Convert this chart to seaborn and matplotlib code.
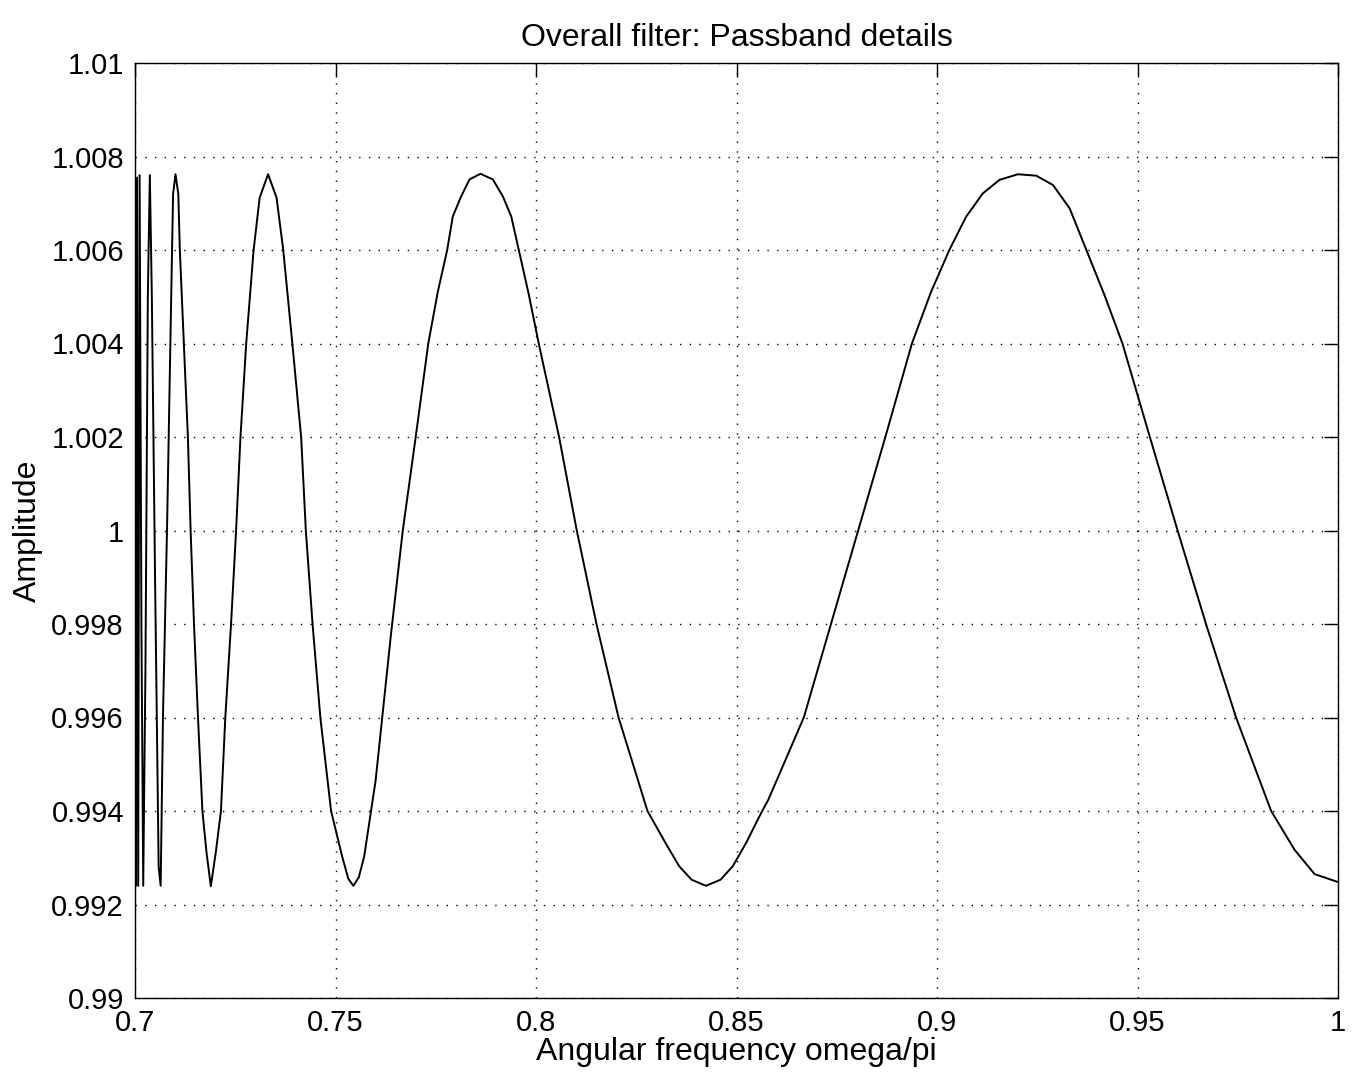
import matplotlib
matplotlib.use("Agg")
import matplotlib.pyplot as plt
import seaborn as sns
import pandas as pd

# Read-off curve points (omega/pi, amplitude)
omega = [
    0.70000, 0.70025, 0.70050, 0.70080, 0.70115, 0.70160, 0.70205, 0.70260, 0.70320, 0.70370,
    0.70420, 0.70500, 0.70590, 0.70640, 0.70697, 0.70798, 0.70882, 0.70924, 0.70950, 0.71010,
    0.71080, 0.71118, 0.71218, 0.71319, 0.71387, 0.71471, 0.71571, 0.71681, 0.71781, 0.71891,
    0.72017, 0.72143, 0.72252, 0.72395, 0.72521, 0.72630, 0.72773, 0.72958, 0.73109, 0.73319,
    0.73530, 0.73697, 0.73924, 0.74143, 0.74260, 0.74428, 0.74622, 0.74890, 0.75168, 0.75320,
    0.75445, 0.75580, 0.75714, 0.76000, 0.76381, 0.76678, 0.77000, 0.77314, 0.77550, 0.77785,
    0.77926, 0.78135, 0.78342, 0.78616, 0.78923, 0.79172, 0.79382, 0.79571, 0.79820, 0.80068,
    0.80576, 0.81017, 0.81508, 0.82059, 0.82780, 0.83240, 0.83570, 0.83880, 0.84237, 0.84601,
    0.84908, 0.85242, 0.85574, 0.85798, 0.86678, 0.87356, 0.88034, 0.88712, 0.89375, 0.89850,
    0.90308, 0.90725, 0.91142, 0.91558, 0.92017, 0.92475, 0.92892, 0.93308, 0.93725, 0.94170,
    0.94625, 0.95308, 0.96000, 0.96708, 0.97458, 0.98333, 0.98917, 0.99417, 1.00000,
]
amplitude = [
    1.00660, 0.99240, 1.00755, 0.99240, 1.00760, 0.99800, 0.99240, 0.99700, 1.00500, 1.00760,
    1.00500, 0.99900, 0.99280, 0.99240, 0.99600, 1.00000, 1.00400, 1.00600, 1.00720, 1.00762,
    1.00720, 1.00600, 1.00400, 1.00200, 1.00000, 0.99800, 0.99600, 0.99400, 0.99313, 0.99239,
    0.99313, 0.99400, 0.99600, 0.99800, 1.00000, 1.00200, 1.00400, 1.00600, 1.00712, 1.00762,
    1.00712, 1.00600, 1.00400, 1.00200, 1.00000, 0.99800, 0.99600, 0.99400, 0.99302, 0.99255,
    0.99240, 0.99258, 0.99302, 0.99465, 0.99776, 1.00000, 1.00200, 1.00400, 1.00510, 1.00600,
    1.00672, 1.00715, 1.00751, 1.00763, 1.00751, 1.00715, 1.00672, 1.00600, 1.00505, 1.00400,
    1.00200, 1.00000, 0.99800, 0.99600, 0.99400, 0.99330, 0.99282, 0.99253, 0.99240, 0.99253,
    0.99282, 0.99332, 0.99389, 0.99425, 0.99600, 0.99800, 1.00000, 1.00200, 1.00400, 1.00510,
    1.00600, 1.00671, 1.00721, 1.00750, 1.00762, 1.00759, 1.00739, 1.00689, 1.00600, 1.00505,
    1.00400, 1.00200, 1.00000, 0.99800, 0.99600, 0.99400, 0.99317, 0.99265, 0.99248,
]

x_ticks = [0.7, 0.75, 0.8, 0.85, 0.9, 0.95, 1.0]
x_tick_labels = ["0.7", "0.75", "0.8", "0.85", "0.9", "0.95", "1"]
y_ticks = [0.99, 0.992, 0.994, 0.996, 0.998, 1.0, 1.002, 1.004, 1.006, 1.008, 1.01]
y_tick_labels = ["0.99", "0.992", "0.994", "0.996", "0.998", "1", "1.002", "1.004", "1.006", "1.008", "1.01"]

sns.set_style("white")
plt.rcParams['font.family'] = ['Liberation Sans', 'DejaVu Sans']
plt.rcParams['text.color'] = 'black'
plt.rcParams['axes.labelcolor'] = 'black'

df = pd.DataFrame({"omega": omega, "amplitude": amplitude})

fig = plt.figure(figsize=(13.56, 10.86), dpi=100)
ax = fig.add_axes([135/1356, 1 - 998/1086, (1338 - 135)/1356, (998 - 63)/1086])

sns.lineplot(data=df, x="omega", y="amplitude", ax=ax, color="black", linewidth=1.4,
             sort=False, estimator=None)

ax.set_xlim(0.7, 1.0)
ax.set_ylim(0.99, 1.01)
ax.set_xticks(x_ticks)
ax.set_xticklabels(x_tick_labels)
ax.set_yticks(y_ticks)
ax.set_yticklabels(y_tick_labels)

ax.tick_params(direction="in", length=10, width=1, top=True, right=True,
               labelsize=21, colors="black", pad=8)
ax.grid(True, linestyle=(0, (1, 6)), color="black", linewidth=1.0)
for s in ax.spines.values():
    s.set_visible(True)
    s.set_color("black")
    s.set_linewidth(1.0)

ax.set_xlabel("Angular frequency omega/pi", fontsize=23, labelpad=0, color="black")
ax.set_ylabel("Amplitude", fontsize=23, labelpad=6, color="black")
ax.set_title("Overall filter: Passband details", fontsize=23, pad=12, color="black")

fig.savefig("out.png", dpi=100, facecolor="white")
